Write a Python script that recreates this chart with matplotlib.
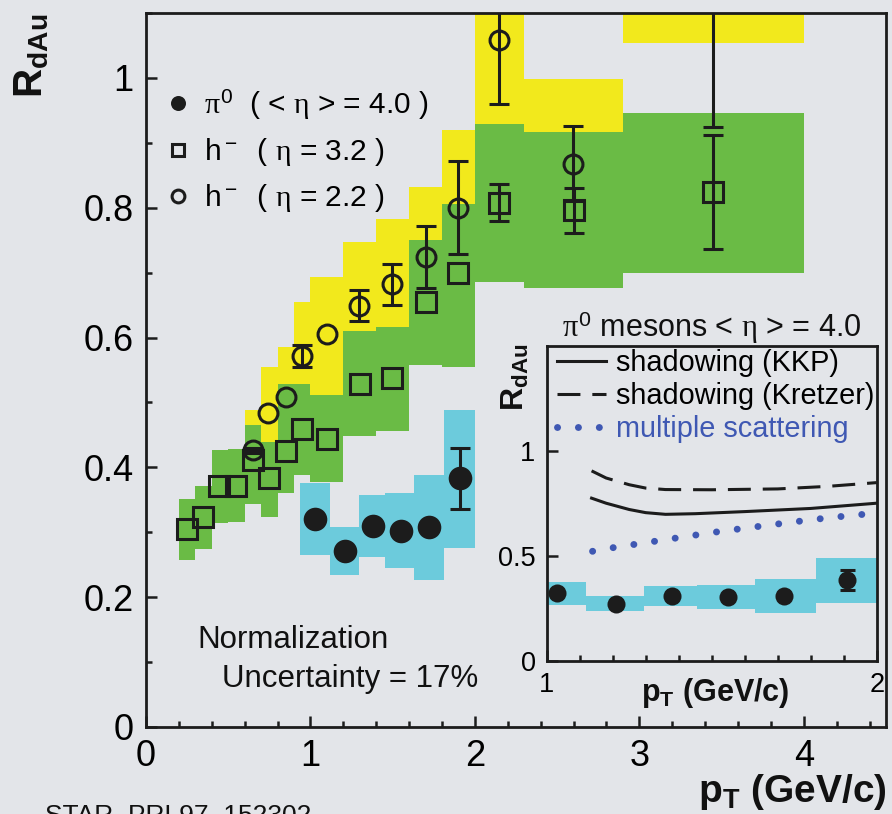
import matplotlib
matplotlib.use("Agg")
import matplotlib.pyplot as plt
from matplotlib.lines import Line2D
from matplotlib.ticker import FixedLocator, MultipleLocator, FixedFormatter
import numpy as np

plt.rcParams["font.family"] = ["Liberation Sans", "DejaVu Sans"]
plt.rcParams["mathtext.fontset"] = "custom"
plt.rcParams["mathtext.rm"] = "Liberation Sans"
plt.rcParams["mathtext.it"] = "Liberation Serif"
plt.rcParams["mathtext.bf"] = "Liberation Sans:bold"

BG = "#e3e5e9"
YELLOW = "#f2e91c"
GREEN = "#6abb45"
CYAN = "#6ccbdc"
BLUE = "#3f58b3"
INK = "#1c1c1c"

# ---- pi0, <eta> = 4.0 ----
pi0_pt = [1.03, 1.21, 1.38, 1.55, 1.72, 1.91]
pi0_r = [0.321, 0.271, 0.310, 0.302, 0.308, 0.383]
pi0_stat = [0.0, 0.0, 0.0, 0.0, 0.0, 0.047]
pi0_sys_lo = [0.265, 0.2345, 0.262, 0.245, 0.227, 0.2765]
pi0_sys_hi = [0.376, 0.308, 0.358, 0.360, 0.389, 0.488]
pi0_sys_edges = [0.935, 1.12, 1.295, 1.455, 1.63, 1.815, 2.0]

# ---- h-, eta = 3.2 ----
h32_pt = [0.247, 0.349, 0.444, 0.547, 0.652, 0.75, 0.849, 0.95, 1.098, 1.301,
          1.497, 1.70, 1.899, 2.148, 2.602, 3.449]
h32_r = [0.305, 0.324, 0.371, 0.371, 0.411, 0.383, 0.425, 0.459, 0.443, 0.528,
         0.538, 0.654, 0.700, 0.808, 0.796, 0.824]
h32_stat = [0, 0, 0, 0, 0, 0, 0, 0, 0, 0, 0, 0, 0, 0.028, 0.035, 0.088]
h32_sys_lo = [0.258, 0.274, 0.314, 0.316, 0.344, 0.324, 0.360, 0.388, 0.377, 0.448,
              0.456, 0.557, 0.554, 0.686, 0.676, 0.699]
h32_sys_hi = [0.351, 0.372, 0.427, 0.428, 0.465, 0.439, 0.528, 0.528, 0.512, 0.610,
              0.617, 0.751, 0.805, 0.929, 0.916, 0.946]
h32_sys_edges = [0.2, 0.3, 0.4, 0.5, 0.6, 0.7, 0.8, 0.9, 1.0, 1.2, 1.4, 1.6, 1.8,
                 2.0, 2.3, 2.9, 4.0]

# ---- h-, eta = 2.2 ----
h22_pt = [0.652, 0.744, 0.849, 0.946, 1.102, 1.297, 1.497, 1.70, 1.899, 2.148,
          2.598, 3.45]
h22_r = [0.426, 0.484, 0.509, 0.571, 0.605, 0.649, 0.682, 0.724, 0.800, 1.059,
         0.868, 1.25]
h22_stat = [0.004, 0, 0, 0.017, 0, 0.024, 0.032, 0.048, 0.072, 0.099, 0.058, 0.325]
h22_sys_lo = [0.364, 0.413, 0.433, 0.487, 0.512, 0.551, 0.581, 0.615, 0.680, 0.92,
              0.74, 1.054]
h22_sys_hi = [0.488, 0.554, 0.585, 0.655, 0.694, 0.747, 0.783, 0.832, 0.920, 1.20,
              0.998, 1.45]
h22_sys_edges = [0.6, 0.7, 0.8, 0.9, 1.0, 1.2, 1.4, 1.6, 1.8, 2.0, 2.3, 2.9, 4.0]

# ---- model curves for pi0 at <eta> = 4.0 ----
kkp_pt = [1.136, 1.18, 1.25, 1.30, 1.36, 1.45, 1.60, 1.80, 2.0]
kkp_r = [0.774, 0.750, 0.720, 0.705, 0.697, 0.700, 0.710, 0.725, 0.750]
kretzer_pt = [1.136, 1.18, 1.25, 1.30, 1.36, 1.50, 1.70, 1.85, 2.0]
kretzer_r = [0.904, 0.870, 0.838, 0.822, 0.815, 0.814, 0.818, 0.830, 0.848]
msc_pt = [1.139, 1.2, 1.3, 1.4, 1.5, 1.6, 1.7, 1.8, 1.9, 2.0]
msc_r = [0.521, 0.538, 0.562, 0.586, 0.610, 0.631, 0.651, 0.671, 0.688, 0.703]

main_yticks = [0, 0.2, 0.4, 0.6, 0.8, 1.0]
main_ytick_labels = ["0", "0.2", "0.4", "0.6", "0.8", "1"]
main_xticks = [0, 1, 2, 3, 4]
main_xtick_labels = ["0", "1", "2", "3", "4"]
inset_yticks = [0, 0.5, 1.0]
inset_ytick_labels = ["0", "0.5", "1"]
inset_xticks = [1, 2]
inset_xtick_labels = ["1", "2"]

W, H = 892, 814
fig = plt.figure(figsize=(W / 100, H / 100), dpi=100, facecolor=BG)


def fx(px):
    return px / W


def fy(py):
    return 1 - py / H


def sys_boxes(ax, edges, lo, hi, color, z):
    edges = np.asarray(edges)
    lo = np.asarray(lo)
    hi = np.asarray(hi)
    ax.bar(edges[:-1], hi - lo, width=np.diff(edges), bottom=lo, align="edge",
           color=color, linewidth=0, zorder=z)


def points(ax, x, y, err, marker, ms, filled, cap, z=6):
    x = np.asarray(x)
    y = np.asarray(y)
    err = np.asarray(err)
    m = err > 0
    ax.errorbar(x[m], y[m], yerr=err[m], fmt="none", ecolor=INK, elinewidth=2.2,
                capsize=cap, capthick=2.2, zorder=z)
    if filled:
        ax.plot(x, y, ls="none", marker=marker, ms=ms, mfc=INK, mec=INK, mew=0,
                zorder=z + 1)
    else:
        ax.plot(x, y, ls="none", marker=marker, ms=ms, mfc="none", mec=INK,
                mew=2.2, zorder=z + 1)


def style_axes(ax, lw=2.0):
    ax.set_facecolor(BG)
    for s in ax.spines.values():
        s.set_linewidth(lw)
        s.set_color(INK)


# ---------------- main panel ----------------
ax = fig.add_axes([fx(146), fy(727), fx(886) - fx(146), fy(13) - fy(727)])
style_axes(ax)
ax.set_xlim(0, 4.5)
ax.set_ylim(0, 1.1)

sys_boxes(ax, h22_sys_edges, h22_sys_lo, h22_sys_hi, YELLOW, 1)
sys_boxes(ax, h32_sys_edges, h32_sys_lo, h32_sys_hi, GREEN, 2)
sys_boxes(ax, pi0_sys_edges, pi0_sys_lo, pi0_sys_hi, CYAN, 2)

points(ax, h32_pt, h32_r, h32_stat, "s", 14, False, 7.2)
points(ax, h22_pt, h22_r, h22_stat, "o", 13.6, False, 7.2)
points(ax, pi0_pt, pi0_r, pi0_stat, "o", 17, True, 7.2)

ax.xaxis.set_major_locator(FixedLocator(main_xticks))
ax.xaxis.set_major_formatter(FixedFormatter(main_xtick_labels))
ax.xaxis.set_minor_locator(MultipleLocator(0.2))
ax.yaxis.set_major_locator(FixedLocator(main_yticks))
ax.yaxis.set_major_formatter(FixedFormatter(main_ytick_labels))
ax.yaxis.set_minor_locator(MultipleLocator(0.1))
ax.tick_params(which="both", direction="in", top=False, right=False, color=INK)
ax.tick_params(which="major", length=8, width=1.8, labelsize=26, pad=9)
ax.tick_params(which="minor", length=4.5, width=1.8)

leg_handles = [
    Line2D([], [], ls="none", marker="o", ms=10.8, mfc=INK, mec=INK, mew=0),
    Line2D([], [], ls="none", marker="s", ms=9.2, mfc="none", mec=INK, mew=2.2),
    Line2D([], [], ls="none", marker="o", ms=9.2, mfc="none", mec=INK, mew=2.2),
]
leg_labels = [r"$\pi^0$  ( < $\eta$ > = 4.0 )", r"h$^-$  ( $\eta$ = 3.2 )",
              r"h$^-$  ( $\eta$ = 2.2 )"]
ax.legend(leg_handles, leg_labels, loc="upper left",
          bbox_to_anchor=((164 - 146) / 740, (727 - 88) / 714), frameon=False,
          fontsize=21.5, handlelength=0.95, handletextpad=0.4, labelspacing=0.48,
          borderpad=0, borderaxespad=0)

ax.text((197 - 146) / 740, (727 - 648) / 714, "Normalization", fontsize=22.5,
        color="#111111", transform=ax.transAxes, va="baseline")
ax.text((222 - 146) / 740, (727 - 687) / 714, "Uncertainty = 17%", fontsize=22.5,
        color="#111111", transform=ax.transAxes, va="baseline")

fig.text(fx(32), fy(56), r"$\mathbf{R_{dAu}}$", rotation=90, fontsize=29,
         ha="center", va="center", color="#111111")
fig.text(fx(887), fy(802), r"$\mathbf{p_T}$ (GeV/c)", fontsize=28,
         fontweight="bold", ha="right", va="baseline", color="#111111")
fig.text(fx(45), fy(822), "STAR, PRL97, 152302", fontsize=19, ha="left",
         va="baseline", color="#111111")

# ---------------- inset ----------------
ins = fig.add_axes([fx(546.7), fy(660.7), fx(876.7) - fx(546.7),
                    fy(345.7) - fy(660.7)])
style_axes(ins)
ins.set_xlim(1, 2)
ins.set_ylim(0, 1.5)

sys_boxes(ins, pi0_sys_edges, pi0_sys_lo, pi0_sys_hi, CYAN, 1)
points(ins, pi0_pt, pi0_r, pi0_stat, "o", 13, True, 5.4)

l1, = ins.plot(kkp_pt, kkp_r, color=INK, lw=2.2, zorder=4)
l2, = ins.plot(kretzer_pt, kretzer_r, color=INK, lw=2.2, zorder=4,
               dashes=(7.5, 3.9))
l3, = ins.plot(msc_pt, msc_r, color=BLUE, lw=5, zorder=4,
               dashes=(0.01, 3.0), dash_capstyle="round")

ins.xaxis.set_major_locator(FixedLocator(inset_xticks))
ins.xaxis.set_major_formatter(FixedFormatter(inset_xtick_labels))
ins.xaxis.set_minor_locator(MultipleLocator(0.1))
ins.yaxis.set_major_locator(FixedLocator(inset_yticks))
ins.yaxis.set_major_formatter(FixedFormatter(inset_ytick_labels))
ins.tick_params(which="both", direction="in", top=False, right=False, color=INK)
ins.tick_params(which="major", length=8, width=1.8, labelsize=19.5, pad=8)
ins.tick_params(which="minor", length=4, width=1.8)

ileg = ins.legend([l1, l2, l3], ["shadowing (KKP)", "shadowing (Kretzer)",
                                  "multiple scattering"],
                  loc="upper left", bbox_to_anchor=((557 - 546.7) / 330, 0.99),
                  frameon=False, fontsize=20.8, handlelength=1.7,
                  handletextpad=0.35, labelspacing=0.18, borderpad=0,
                  borderaxespad=0)
ileg.get_texts()[2].set_color(BLUE)

ins.set_title(r"$\pi^0$ mesons < $\eta$ > = 4.0", fontsize=22, pad=3,
              color="#111111")
ins.text(0.51, -0.05, r"$\mathbf{p_T}$ (GeV/c)", fontsize=22, fontweight="bold",
         ha="center", va="top", transform=ins.transAxes, color="#111111")
fig.text(fx(515), fy(377), r"$\mathbf{R_{dAu}}$", rotation=90, fontsize=23,
         ha="center", va="center", color="#111111")

fig.savefig("out.png", dpi=100, facecolor=BG)
